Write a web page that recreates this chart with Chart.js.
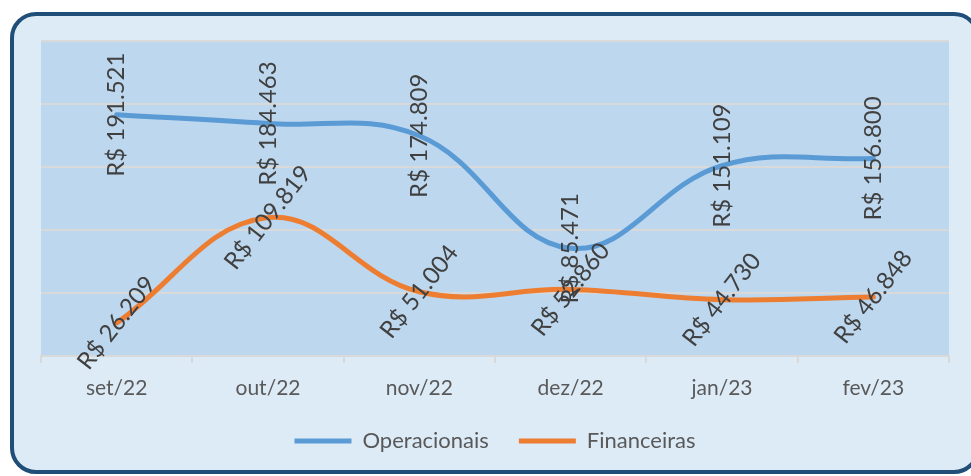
<!DOCTYPE html>
<html>
<head>
<meta charset="utf-8">
<script src="https://cdn.jsdelivr.net/npm/chart.js@4.4.1/dist/chart.umd.min.js"></script>
<style>
  html, body { margin: 0; padding: 0; background: #ffffff; }
  #wrap { width: 971px; height: 476px; }
</style>
</head>
<body>
<div id="wrap"><canvas id="chart"></canvas></div>
<script>
// values (R$)
const months = ['set/22', 'out/22', 'nov/22', 'dez/22', 'jan/23', 'fev/23'];
const operacionais = [191521, 184463, 174809, 85471, 151109, 156800];
const financeiras = [26209, 109819, 51004, 52860, 44730, 46848];

const FONT = 'Lato';
const LABEL_ANGLES = [-90, -52];

// "R$ 191.521" style
function brl(v) {
    return 'R$ ' + String(v).replace(/\B(?=(\d{3})+(?!\d))/g, '.');
}

// rounded outer frame + plot area fill
const framePlugin = {
    id: 'frame',
    beforeDraw(chart) {
        const ctx = chart.ctx;
        const a = chart.chartArea;
        ctx.save();
        ctx.beginPath();
        ctx.roundRect(12, 14, 966, 458, 24);
        ctx.fillStyle = '#DDEBF7';
        ctx.fill();
        ctx.lineWidth = 4;
        ctx.strokeStyle = '#1F4E79';
        ctx.stroke();
        ctx.fillStyle = '#BDD7EE';
        ctx.fillRect(a.left, a.top, a.right - a.left, a.bottom - a.top);
        ctx.restore();
    }
};

// rotated value labels centred on every point
const valueLabels = {
    id: 'valueLabels',
    afterDatasetsDraw(chart) {
        const ctx = chart.ctx;
        ctx.save();
        ctx.font = '24px ' + FONT;
        ctx.fillStyle = '#404040';
        ctx.textAlign = 'center';
        ctx.textBaseline = 'middle';
        chart.data.datasets.forEach((ds, i) => {
            const meta = chart.getDatasetMeta(i);
            meta.data.forEach((pt, j) => {
                ctx.save();
                ctx.translate(pt.x, pt.y);
                ctx.rotate(LABEL_ANGLES[i] * Math.PI / 180);
                ctx.fillText(brl(ds.data[j]), 0, 0);
                ctx.restore();
            });
        });
        ctx.restore();
    }
};

const ctx = document.getElementById('chart').getContext('2d');
new Chart(ctx, {
    type: 'line',
    data: {
        labels: months,
        datasets: [{
            label: 'Operacionais',
            data: operacionais,
            borderColor: '#5B9BD5',
            backgroundColor: '#5B9BD5',
            borderWidth: 5,
            borderCapStyle: 'round',
            borderJoinStyle: 'round',
            tension: 0.4,
            pointRadius: 0
        }, {
            label: 'Financeiras',
            data: financeiras,
            borderColor: '#ED7D31',
            backgroundColor: '#ED7D31',
            borderWidth: 5,
            borderCapStyle: 'round',
            borderJoinStyle: 'round',
            tension: 0.4,
            pointRadius: 0
        }]
    },
    options: {
        responsive: true,
        maintainAspectRatio: false,
        animation: false,
        layout: { padding: { left: 41, right: 22, top: 41, bottom: 14 } },
        scales: {
            x: {
                offset: true,
                grid: { drawOnChartArea: false, tickLength: 7, color: '#D9D9D9', lineWidth: 2, offset: true },
                border: { color: '#D9D9D9', width: 2 },
                ticks: { font: { family: FONT, size: 21 }, color: '#595959', padding: 13 },
                afterFit(s) { s.height = 44; }
            },
            y: {
                min: 0,
                max: 250000,
                ticks: { stepSize: 50000, display: false },
                grid: { color: '#D9D9D9', lineWidth: 2, drawTicks: false },
                border: { display: false },
                afterFit(s) { s.width = 0; }
            }
        },
        plugins: {
            legend: {
                position: 'bottom',
                labels: {
                    usePointStyle: true,
                    pointStyle: 'line',
                    pointStyleWidth: 57,
                    font: { family: FONT, size: 22 },
                    color: '#595959',
                    padding: 30
                }
            },
            tooltip: { enabled: false }
        }
    },
    plugins: [framePlugin, valueLabels]
});
</script>
</body>
</html>
